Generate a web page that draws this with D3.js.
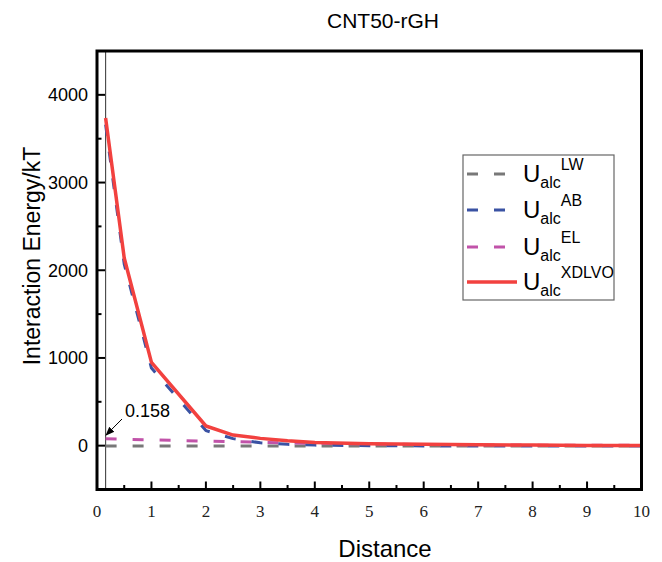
<!DOCTYPE html>
<html>
<head>
<meta charset="utf-8">
<script src="https://cdn.jsdelivr.net/npm/d3@7"></script>
<style>
  html, body { margin: 0; padding: 0; background: #fff; }
  svg { display: block; }
</style>
</head>
<body>
<svg id="chart" width="662" height="562"></svg>
<script>
// ---- data ----
const title = "CNT50-rGH";
const xLabel = "Distance";
const yLabel = "Interaction Energy/kT";
const distance = [0.158, 0.5, 1, 2, 2.5, 3, 3.5, 4, 5, 6, 7, 8, 9, 10];
const uLW    = [-4, -4, -3, -3, -3, -3, -3, -3, -3, -3, -3, -3, -3, -3];
const uAB    = [3660, 2070, 885, 172, 80, 32, 15, 6, 0, -3, -3, -3, -3, -3];
const uEL    = [78, 73, 66, 52, 45, 38, 32, 27, 19, 13, 9, 6, 4, 3];
const uXDLVO = [3735, 2140, 950, 224, 121, 83, 56, 36, 22, 15, 10, 6, 3, 1];
const seriesNames = ["LW", "AB", "EL", "XDLVO"];
const xTicks = [0, 1, 2, 3, 4, 5, 6, 7, 8, 9, 10];
const xMinorTicks = [0.5, 1.5, 2.5, 3.5, 4.5, 5.5, 6.5, 7.5, 8.5, 9.5];
const yTicks = [0, 1000, 2000, 3000, 4000];
const yMinorTicks = [500, 1500, 2500, 3500];
const xDomain = [0, 10];
const yDomain = [-500, 4500];
const annotation = "0.158";

// ---- layout ----
const svg = d3.select("#chart");
const pLeft = 97, pRight = 641.5, pTop = 51, pBottom = 489.5;
const x = d3.scaleLinear().domain(xDomain).range([pLeft, pRight]);
const y = d3.scaleLinear().domain(yDomain).range([pBottom, pTop]);

const series = [
  {name: seriesNames[0], values: uLW,    color: "#787878", dash: "11,16", width: 3},
  {name: seriesNames[1], values: uAB,    color: "#3a52a3", dash: "11,16", width: 3},
  {name: seriesNames[2], values: uEL,    color: "#c153a9", dash: "11,16", width: 3},
  {name: seriesNames[3], values: uXDLVO, color: "#f2413f", dash: null,    width: 3.5}
];

const defs = svg.append("defs");
defs.append("clipPath").attr("id", "clip")
  .append("rect").attr("x", pLeft).attr("y", pTop)
  .attr("width", pRight - pLeft).attr("height", pBottom - pTop);

// vertical marker at first distance
svg.append("line")
  .attr("x1", x(distance[0])).attr("x2", x(distance[0]))
  .attr("y1", pTop).attr("y2", pBottom)
  .attr("stroke", "#444").attr("stroke-width", 1.1);

// curves
const line = d3.line().x((d, i) => x(distance[i])).y(d => y(d));
const gLines = svg.append("g").attr("clip-path", "url(#clip)");
[0, 2, 1, 3].forEach(k => {
  const s = series[k];
  gLines.append("path")
    .attr("d", line(s.values))
    .attr("fill", "none")
    .attr("stroke", s.color)
    .attr("stroke-width", s.width)
    .attr("stroke-dasharray", s.dash)
    .attr("stroke-linejoin", "round");
});

// ticks (inward)
const gt = svg.append("g").attr("stroke", "#000").attr("stroke-width", 2);
xTicks.forEach(t => gt.append("line").attr("x1", x(t)).attr("x2", x(t))
  .attr("y1", pBottom).attr("y2", pBottom - 8));
xMinorTicks.forEach(t => gt.append("line").attr("x1", x(t)).attr("x2", x(t))
  .attr("y1", pBottom).attr("y2", pBottom - 4.5));
yTicks.forEach(t => gt.append("line").attr("y1", y(t)).attr("y2", y(t))
  .attr("x1", pLeft).attr("x2", pLeft + 8));
yMinorTicks.forEach(t => gt.append("line").attr("y1", y(t)).attr("y2", y(t))
  .attr("x1", pLeft).attr("x2", pLeft + 4.5));

// frame
svg.append("rect")
  .attr("x", pLeft).attr("y", pTop)
  .attr("width", pRight - pLeft).attr("height", pBottom - pTop)
  .attr("fill", "none").attr("stroke", "#000").attr("stroke-width", 3);

// tick labels
svg.append("g").selectAll("text").data(xTicks).join("text")
  .attr("x", d => x(d)).attr("y", 517)
  .attr("text-anchor", "middle")
  .attr("font-family", "'Liberation Serif', 'DejaVu Serif', serif")
  .attr("font-size", 17).attr("fill", "#222")
  .text(d => d);
svg.append("g").selectAll("text").data(yTicks).join("text")
  .attr("x", 88).attr("y", d => y(d)).attr("dy", "0.35em")
  .attr("text-anchor", "end")
  .attr("font-family", "'Liberation Sans', Arial, sans-serif")
  .attr("font-size", 18).attr("fill", "#000")
  .text(d => d);

// titles
svg.append("text").attr("x", 383).attr("y", 28).attr("text-anchor", "middle")
  .attr("font-family", "'Liberation Sans', Arial, sans-serif").attr("font-size", 21)
  .text(title);
svg.append("text").attr("x", 385).attr("y", 557).attr("text-anchor", "middle")
  .attr("font-family", "'Liberation Sans', Arial, sans-serif").attr("font-size", 24)
  .text(xLabel);
svg.append("text").attr("transform", "translate(40,256) rotate(-90)")
  .attr("text-anchor", "middle")
  .attr("font-family", "'Liberation Sans', Arial, sans-serif").attr("font-size", 23)
  .text(yLabel);

// annotation
defs.append("marker").attr("id", "arrow")
  .attr("viewBox", "0 0 10 10").attr("refX", 9).attr("refY", 5)
  .attr("markerWidth", 9).attr("markerHeight", 9).attr("orient", "auto")
  .attr("markerUnits", "userSpaceOnUse")
  .append("path").attr("d", "M0,1 L10,5 L0,9 Z").attr("fill", "#000");
svg.append("line")
  .attr("x1", 122).attr("y1", 419)
  .attr("x2", x(distance[0]) + 0.5).attr("y2", 435)
  .attr("stroke", "#000").attr("stroke-width", 1)
  .attr("marker-end", "url(#arrow)");
svg.append("text").attr("x", 125).attr("y", 417)
  .attr("font-family", "'Liberation Sans', Arial, sans-serif").attr("font-size", 18)
  .text(annotation);

// legend
const lg = svg.append("g");
lg.append("rect").attr("x", 463).attr("y", 155).attr("width", 151).attr("height", 145)
  .attr("fill", "#fff").attr("stroke", "#666").attr("stroke-width", 1.2);
const rowY = [174, 210, 247, 282];
series.forEach((s, i) => {
  lg.append("line").attr("x1", 467).attr("x2", 517)
    .attr("y1", rowY[i]).attr("y2", rowY[i])
    .attr("stroke", s.color).attr("stroke-width", s.width)
    .attr("stroke-dasharray", s.dash);
  const t = lg.append("text").attr("x", 523).attr("y", rowY[i] + 8)
    .attr("font-family", "'Liberation Sans', Arial, sans-serif").attr("font-size", 24);
  t.append("tspan").text("U");
  t.append("tspan").attr("dy", 6).attr("font-size", 16).text("alc");
  t.append("tspan").attr("dy", -18).attr("font-size", 16).text(s.name);
});
</script>
</body>
</html>
